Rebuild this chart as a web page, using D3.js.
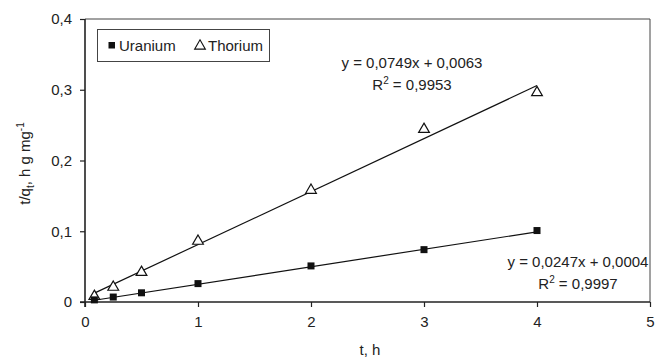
<!DOCTYPE html>
<html>
<head>
<meta charset="utf-8">
<script src="https://cdn.jsdelivr.net/npm/d3@7"></script>
<style>
  html, body { margin: 0; padding: 0; background: #fff; }
  svg { display: block; font-family: "Liberation Sans", Arial, sans-serif; }
</style>
</head>
<body>
<svg id="chart" width="664" height="358"></svg>
<script>
// Pseudo-second-order kinetics: t/q_t versus t
const times = [0.083, 0.25, 0.5, 1, 2, 3, 4];
const uranium = [0.003, 0.007, 0.013, 0.026, 0.051, 0.074, 0.101];
const thorium = [0.008, 0.021, 0.042, 0.086, 0.158, 0.244, 0.296];

// Linear fits (slope, intercept) and their labels
const uraniumFit = [0.0247, 0.0004];
const thoriumFit = [0.0749, 0.0063];
const uraniumEq = ["y = 0,0247x + 0,0004", "0,9997"];
const thoriumEq = ["y = 0,0749x + 0,0063", "0,9953"];

const xTicks = [0, 1, 2, 3, 4, 5];
const yTicks = [0, 0.1, 0.2, 0.3, 0.4];
const fmt = v => String(v).replace(".", ",");

const FS = "15px";
const svg = d3.select("#chart");
const plot = { left: 85, right: 650, top: 19, bottom: 302 };

const x = d3.scaleLinear().domain([0, 5]).range([plot.left, plot.right]);
const y = d3.scaleLinear().domain([0, 0.4]).range([plot.bottom, plot.top]);

// Plot frame (top and right edges)
svg.append("path")
  .attr("d", `M${plot.left},${plot.top}H${plot.right}V${plot.bottom}`)
  .attr("fill", "none").attr("stroke", "#444").attr("stroke-width", 1);

// Axes
const xAxis = svg.append("g").attr("transform", `translate(0,${plot.bottom})`)
  .call(d3.axisBottom(x).tickValues(xTicks).tickFormat(fmt).tickSize(5).tickPadding(9));
const yAxis = svg.append("g").attr("transform", `translate(${plot.left},0)`)
  .call(d3.axisLeft(y).tickValues(yTicks).tickFormat(fmt).tickSize(5).tickPadding(8));
[xAxis, yAxis].forEach(g => {
  g.select(".domain").attr("stroke", "#222").attr("stroke-width", 1.6);
  g.selectAll(".tick line").attr("stroke", "#222").attr("stroke-width", 1.2);
  g.selectAll(".tick text").attr("fill", "#222").style("font-size", FS);
});
xAxis.select(".domain").attr("d", `M${plot.left - 5},0H${plot.right}`);
yAxis.select(".domain").attr("d", `M0,${plot.bottom + 5}V${plot.top}`);

// Axis titles
svg.append("text").attr("x", 370).attr("y", 355).attr("text-anchor", "middle")
  .attr("fill", "#222").style("font-size", FS).text("t, h");

const yTitle = svg.append("text")
  .attr("transform", `translate(30,${(plot.top + plot.bottom) / 2 + 3}) rotate(-90)`)
  .attr("text-anchor", "middle").attr("fill", "#222").style("font-size", FS);
yTitle.append("tspan").text("t/q");
yTitle.append("tspan").attr("dy", 4).style("font-size", "10px").text("t");
yTitle.append("tspan").attr("dy", -4).text(",  h g mg");
yTitle.append("tspan").attr("dy", -6).style("font-size", "10px").text("-1");

// Trend lines over the measured time span
const tMin = d3.min(times), tMax = d3.max(times);
[uraniumFit, thoriumFit].forEach(([m, b]) => {
  svg.append("line")
    .attr("x1", x(tMin)).attr("y1", y(m * tMin + b))
    .attr("x2", x(tMax)).attr("y2", y(m * tMax + b))
    .attr("stroke", "#111").attr("stroke-width", 1.2);
});

// Markers
const tri = d3.symbol().type(d3.symbolTriangle).size(50);
svg.append("g").selectAll("path").data(times)
  .join("path")
  .attr("d", tri)
  .attr("transform", (d, i) => `translate(${x(d)},${y(thorium[i])})`)
  .attr("fill", "#fff").attr("stroke", "#111").attr("stroke-width", 1.2);

svg.append("g").selectAll("rect").data(times)
  .join("rect")
  .attr("x", d => x(d) - 3.5).attr("width", 7)
  .attr("y", (d, i) => y(uranium[i]) - 3.5).attr("height", 7)
  .attr("fill", "#111");

// Equation labels
function equation(cx, cy, lines) {
  const g = svg.append("g").attr("fill", "#222").style("font-size", FS);
  g.append("text").attr("x", cx).attr("y", cy).attr("text-anchor", "middle").text(lines[0]);
  const r = g.append("text").attr("x", cx).attr("y", cy + 22).attr("text-anchor", "middle");
  r.append("tspan").text("R");
  r.append("tspan").attr("dy", -6).style("font-size", "10px").text("2");
  r.append("tspan").attr("dy", 6).text(" = " + lines[1]);
}
equation(412, 68, thoriumEq);
equation(578, 267, uraniumEq);

// Legend
const legend = svg.append("g");
legend.append("rect").attr("x", 97.5).attr("y", 29.5).attr("width", 172).attr("height", 32)
  .attr("fill", "#fff").attr("stroke", "#444").attr("stroke-width", 1);
legend.append("rect").attr("x", 108.5).attr("y", 42).attr("width", 6.5).attr("height", 6.5).attr("fill", "#111");
legend.append("text").attr("x", 119).attr("y", 51).attr("fill", "#222").style("font-size", FS).text("Uranium");
legend.append("path").attr("d", tri)
  .attr("transform", "translate(200,46)")
  .attr("fill", "#fff").attr("stroke", "#111").attr("stroke-width", 1.1);
legend.append("text").attr("x", 208).attr("y", 51).attr("fill", "#222").style("font-size", FS).text("Thorium");
</script>
</body>
</html>
